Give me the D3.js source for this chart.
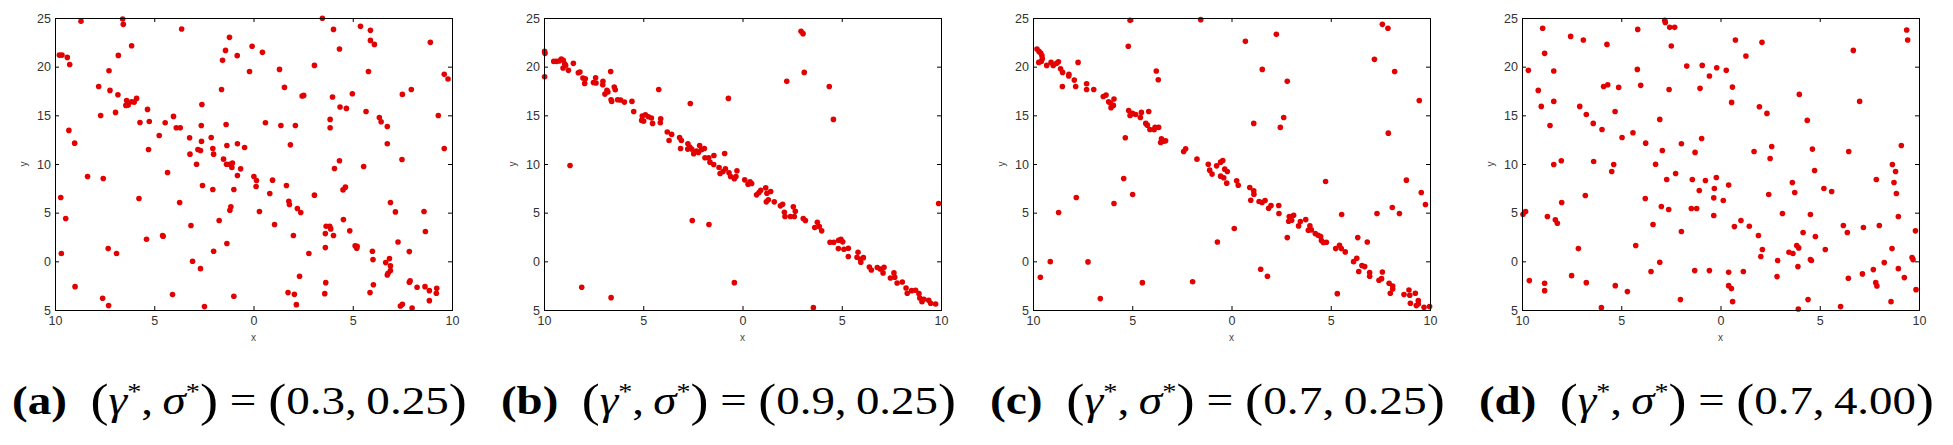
<!DOCTYPE html>
<html>
<head>
<meta charset="utf-8">
<script src="https://cdn.jsdelivr.net/npm/d3@7"></script>
<style>
  body { margin: 0; background: #fff; }
  .tick-label { font-family: "Liberation Sans", Arial, sans-serif; font-size: 12.5px; fill: #333; }
  .axis-label { font-family: "Liberation Sans", Arial, sans-serif; font-size: 10px; fill: #444; }
  .caption { font-family: "Liberation Serif", "Times New Roman", serif; font-size: 40px; fill: #000; }
</style>
</head>
<body>
<div id="chart"></div>
<script>
const width = 1953, height = 445;

// ticks shown on every panel
const xTicks = [-10, -5, 0, 5, 10];
const yTicks = [-5, 0, 5, 10, 15, 20, 25];

// caption pieces
const panelTags = ["(a)", "(b)", "(c)", "(d)"];
const gammaVals = ["0.3", "0.9", "0.7", "0.7"];
const sigmaVals = ["0.25", "0.25", "0.25", "4.00"];

// scatter points [x, y]
const pointsA = [
  [-8.69,24.66],[-6.59,24.9],[-6.56,24.35],[-3.62,23.87],[3.47,24.97],[5.39,24.14],[4.03,23.83],[5.89,23.73],
  [5.89,22.7],[6.09,22.29],[8.91,22.5],[-1.21,23.01],[-0.07,22.09],[-6.14,22.15],[-9.78,21.19],[-9.65,21.19],
  [-9.38,20.95],[-9.26,20.23],[-6.81,21.16],[-1.41,21.67],[-0.82,21.13],[0.45,21.47],[4.33,21.81],[-1.56,20.65],
  [-7.28,19.58],[-0.2,19.51],[1.31,19.72],[3.07,20.13],[5.79,19.51],[9.61,19.21],[9.8,18.73],[-7.8,17.97],
  [-7.23,17.56],[-6.83,17.12],[-1.61,17.66],[1.56,17.87],[2.45,16.98],[2.53,17.05],[3.98,16.88],[4.98,17.22],
  [7.5,17.15],[7.95,17.66],[-6.39,16.53],[-6.31,16.05],[-6.14,16.4],[-6.01,16.36],[-5.89,16.74],[-6.43,16.02],
  [-2.6,16.12],[-5.34,15.61],[-7.7,14.99],[-6.95,15.3],[-4.03,14.89],[-5.72,14.27],[-5.25,14.37],[-4.45,14.24],
  [-3.89,13.72],[-3.69,13.72],[-2.63,13.96],[-1.38,14.06],[0.6,14.24],[1.38,13.96],[2.11,13.96],[4.36,15.85],
  [4.68,15.71],[5.67,15.4],[3.86,14.58],[3.86,13.72],[6.34,14.78],[6.43,14.34],[6.74,13.86],[9.31,14.99],
  [-9.3,13.45],[-9.01,12.14],[-4.75,12.93],[-3.22,12.69],[-2.62,12.32],[-2.13,12.73],[-3.2,11.01],[-2.8,11.49],
  [-2.67,11.39],[-2.05,11.6],[-2.01,11.01],[-1.34,11.9],[-0.81,12.08],[-0.45,11.7],[1.86,11.97],[-5.29,11.49],
  [6.74,12.08],[9.61,11.6],[-2.87,9.98],[-1.51,10.5],[-1.36,9.98],[-1.19,9.98],[-1.06,10.09],[-1.09,9.64],
  [-0.65,9.5],[-4.33,9.13],[-0.81,8.82],[0.02,8.72],[0.15,8.3],[0.96,8.34],[4.33,10.33],[4.08,9.54],
  [5.55,9.74],[7.48,10.46],[-8.36,8.72],[-7.57,8.51],[-2.57,7.79],[-2.05,7.38],[-0.99,7.38],[0.13,7.69],
  [1.66,7.79],[4.51,7.34],[4.63,7.62],[0.82,6.97],[3.07,6.8],[-9.71,6.56],[-5.77,6.45],[-3.72,6.04],
  [1.78,6.18],[1.81,5.84],[6.9,6.04],[2.21,5.43],[2.38,5.01],[0.3,5.12],[-1.19,5.25],[-1.14,5.6],
  [7.15,5.08],[8.59,5.12],[-9.46,4.4],[-1.73,4.19],[4.53,4.29],[-3.15,3.68],[1.06,3.78],[3.66,3.61],
  [3.84,3.61],[3.89,3.33],[3.62,2.85],[4.03,2.65],[4.85,3.13],[8.66,3.06],[-5.39,2.27],[-4.58,2.65],
  [-4.55,2.58],[2.01,2.65],[-1.34,1.83],[5.12,1.59],[5.2,1.35],[5.22,1.55],[7.28,1.99],[-7.32,1.31],
  [3.62,1.41],[-9.68,0.8],[-6.9,0.8],[-2.01,1.04],[2.79,0.8],[5.99,1.04],[7.85,1.0],[6.02,0.18],
  [6.85,0.28],[-3.07,0.01],[6.66,-0.13],[6.9,-0.47],[6.78,-1.22],[6.9,-0.95],[6.74,-1.4],[-2.67,-0.75],
  [2.32,-1.53],[-8.99,-2.6],[3.64,-2.19],[6.04,-2.4],[7.85,-2.15],[7.89,-2.01],[8.24,-2.67],[8.64,-2.6],
  [8.86,-3.01],[9.23,-2.77],[9.21,-3.28],[1.74,-3.21],[2.06,-3.39],[3.59,-3.32],[5.87,-3.21],[-4.08,-3.42],
  [-7.6,-3.8],[-0.99,-3.59],[8.86,-4.04],[-7.3,-4.55],[-2.47,-4.65],[2.16,-4.45],[7.4,-4.59],[7.5,-4.41],
  [7.99,-4.79]
];

const pointsB = [
  [-9.97,21.57],[-9.95,21.37],[-9.97,18.97],[-8.69,9.85],[-8.1,-2.67],[-6.62,-3.73],[-6.64,19.51],[-4.22,17.66],
  [-2.63,16.22],[-2.53,4.19],[-1.69,3.78],[-0.71,16.74],[-0.9,11.08],[-0.41,-2.19],[2.23,18.49],[2.95,23.63],
  [3.05,23.39],[3.11,19.41],[4.37,17.97],[4.58,14.58],[3.57,-4.76],[9.88,5.94],
  [-9.51,20.54],[-9.38,20.54],[-9.24,20.58],[-9.13,20.78],[-9.03,20.65],[-8.96,20.3],[-9.04,19.86],[-8.91,20.13],
  [-8.77,19.62],[-8.52,20.34],[-8.27,19.38],[-8.19,19.45],[-8.04,18.83],[-7.92,18.76],[-7.95,18.28],[-7.51,18.38],
  [-7.4,18.86],[-7.38,18.32],[-7.03,18.49],[-7.04,18.14],[-6.93,17.18],[-6.83,17.56],[-6.78,17.39],[-6.46,17.9],
  [-6.41,17.63],[-6.62,16.6],[-6.59,16.43],[-6.29,16.6],[-6.14,16.57],[-5.95,16.36],[-5.57,16.43],[-5.48,15.4],
  [-5.05,14.92],[-4.89,15.06],[-4.74,14.85],[-4.59,14.72],[-5.08,14.48],[-4.98,14.41],[-4.53,14.17],[-4.12,14.65],
  [-4.14,14.24],[-3.79,13.28],[-3.57,13.04],[-3.7,12.42],[-3.17,12.73],[-3.08,12.42],[-3.12,11.6],[-2.75,12.08],
  [-2.66,11.73],[-2.76,11.53],[-2.56,11.53],[-2.46,11.05],[-2.32,11.32],[-2.16,11.9],[-2.06,11.46],[-1.92,11.6],
  [-2.22,11.19],[-1.89,10.64],[-1.7,10.64],[-1.44,10.88],[-1.64,10.19],[-1.45,9.95],[-1.18,9.64],[-1.13,9.02],
  [-0.98,9.23],[-0.86,9.5],[-0.68,9.09],[-0.6,8.72],[-0.41,8.48],[-0.33,8.72],[-0.28,9.3],[0.11,8.37],
  [0.28,7.93],[0.38,8.17],[0.46,8.0],[0.71,6.83],[0.83,7.07],[0.92,7.31],[1.17,7.55],[1.23,7.0],
  [1.42,7.17],[1.2,6.11],[1.3,6.32],[1.6,6.11],[1.91,5.7],[2.02,5.87],[2.11,5.05],[2.14,4.6],
  [2.41,4.6],[2.56,5.6],[2.66,5.15],[2.61,4.6],[3.06,4.4],[3.17,4.19],[3.64,3.47],[3.77,4.02],
  [3.87,3.57],[3.99,3.13],[4.41,1.96],[4.6,1.96],[4.84,2.17],[4.96,2.27],[5.05,2.0],[4.83,1.31],
  [5.11,1.24],[5.33,1.35],[5.33,0.49],[5.82,0.93],[5.77,0.42],[5.94,0.21],[6.09,0.38],[5.96,-0.1],
  [6.39,-0.58],[6.49,-0.89],[6.79,-0.64],[6.94,-0.78],[7.13,-0.61],[7.08,-1.19],[7.45,-1.71],[7.63,-1.19],
  [7.67,-1.64],[7.79,-2.22],[8.05,-2.12],[8.24,-2.74],[8.3,-3.28],[8.52,-3.01],[8.72,-2.97],[8.89,-3.32],
  [8.93,-3.76],[9.04,-4.14],[9.14,-3.9],[9.38,-4.0],[9.48,-4.31],[9.73,-4.38]
];

const pointsC = [
  [-9.8,21.81],[-9.7,21.57],[-9.61,21.4],[-9.55,21.13],[-9.53,20.82],[-9.58,20.54],[-9.71,20.44],[-9.31,20.13],
  [-9.09,20.44],[-8.98,20.13],[-8.81,20.34],[-8.72,20.51],[-8.61,19.79],[-8.51,19.41],[-8.19,19.21],[-8.2,19.04],
  [-8.52,17.97],[-7.92,18.62],[-7.85,17.97],[-7.73,20.44],[-7.3,18.25],[-7.3,17.66],[-6.94,17.66],[-6.46,16.94],
  [-6.32,17.08],[-6.19,16.4],[-6.07,15.78],[-5.95,16.02],[-5.92,16.67],[-6.1,16.26],[-5.35,12.69],[-5.18,15.5],
  [-5.11,14.99],[-4.99,15.2],[-4.83,15.09],[-4.54,15.3],[-4.59,14.78],[-4.32,14.17],[-4.24,13.99],[-4.17,15.4],
  [-4.11,13.55],[-3.9,13.52],[-3.85,13.76],[-3.67,13.76],[-3.79,19.55],[-3.69,18.66],[-3.53,12.59],[-3.45,12.35],
  [-3.32,12.38],[-3.57,12.21],[-2.41,11.29],[-2.31,11.56],[-1.74,10.5],[-1.17,9.98],[-1.1,9.37],[-0.98,8.96],
  [-0.75,9.81],[-0.55,10.19],[-0.44,10.36],[-0.55,8.75],[-0.39,8.58],[-0.34,9.47],[-0.21,9.23],[-0.24,8.03],
  [0.26,8.27],[0.34,7.82],[0.92,7.58],[1.12,7.24],[1.13,6.9],[0.97,6.28],[1.39,6.15],[1.54,6.04],
  [1.69,6.25],[1.87,5.46],[1.99,5.73],[2.38,5.73],[2.39,4.91],[2.91,4.6],[3.03,4.22],[2.88,4.12],
  [3.13,4.74],[3.38,3.64],[3.47,4.09],[3.74,4.29],[3.87,3.2],[3.95,3.64],[4.02,3.23],[4.22,2.85],
  [4.37,2.68],[4.49,2.55],[4.63,1.93],[4.78,1.96],[4.53,2.13],[5.25,1.31],[5.44,1.65],[5.53,1.31],
  [5.73,0.97],[6.15,-0.03],[6.31,0.32],[6.41,-1.05],[6.57,-0.44],[6.71,-0.54],[6.96,-1.15],[6.96,-1.53],
  [7.43,-1.95],[7.56,-1.78],[7.6,-1.09],[7.94,-2.25],[8.12,-2.53],[8.12,-2.84],[8.0,-3.28],[8.69,-3.42],
  [8.94,-2.94],[8.98,-3.49],[9.26,-3.28],[9.01,-4.31],[9.41,-4.04],[9.31,-4.55],[9.41,-4.38],[9.7,-4.72],
  [9.98,-4.65],
  [-5.11,24.76],[-1.55,24.83],[-5.2,22.09],[0.7,22.6],[2.26,23.32],[7.6,24.35],[7.88,23.94],[7.2,20.75],
  [8.22,19.51],[1.55,19.72],[2.81,18.49],[9.46,16.53],[2.63,14.78],[2.46,13.76],[1.12,14.17],[7.9,13.17],
  [8.81,8.34],[4.74,8.2],[9.56,7.07],[9.77,5.84],[8.1,5.53],[7.33,4.91],[8.46,4.91],[5.55,4.81],
  [2.81,2.44],[6.36,2.44],[6.84,1.99],[0.14,3.37],[-0.71,1.99],[-5.43,8.51],[-4.98,6.86],[-7.82,6.56],
  [-5.92,5.94],[-8.71,5.01],[-9.13,-0.03],[-7.23,-0.06],[-9.63,-1.64],[-4.49,-2.19],[-1.96,-2.09],[1.47,-0.82],
  [1.81,-1.53],[5.33,-3.32],[-6.61,-3.83]
];

const pointsD = [
  [-8.96,23.94],[-9.68,19.62],[-8.86,21.37],[-7.55,23.11],[-6.91,22.74],[-5.72,22.29],[-4.17,23.83],[-2.81,24.76],
  [-2.78,24.55],[-2.56,24.04],[-2.31,24.04],[-2.48,22.12],[0.75,22.74],[2.09,22.5],[1.28,21.09],[6.69,21.67],
  [9.38,23.77],[9.43,22.74],[-8.4,19.55],[-9.18,17.56],[-9.03,15.92],[-8.4,16.43],[-8.59,13.96],[-7.09,15.92],
  [-6.76,15.09],[-6.41,14.17],[-5.97,13.55],[-5.89,17.97],[-5.68,18.14],[-5.13,17.87],[-5.31,15.4],[-4.96,12.73],
  [-4.41,13.21],[-4.19,19.72],[-4.02,18.08],[-3.77,12.14],[-3.06,14.58],[-2.59,17.66],[-1.7,20.06],[-0.92,20.13],
  [-0.56,19.04],[-0.19,19.89],[-1.03,17.77],[0.29,19.62],[0.6,17.9],[0.56,16.33],[1.96,15.88],[2.34,15.2],
  [3.97,17.15],[4.37,14.48],[7.01,16.43],[-0.95,12.62],[-1.97,12.08],[-2.93,11.39],[-1.28,11.19],[1.69,11.29],
  [2.58,11.8],[2.5,10.57],[4.63,11.53],[6.46,11.29],[9.11,11.9],[-8.02,10.33],[-8.4,9.95],[-6.39,10.26],
  [-5.38,9.95],[-5.48,9.23],[-3.27,9.98],[-2.26,9.02],[-2.71,8.41],[-1.42,8.41],[-0.76,8.3],[-0.21,8.61],
  [-1.07,7.28],[-0.31,7.48],[0.41,7.83],[4.74,9.33],[3.62,8.1],[3.74,7.07],[5.21,7.48],[5.6,7.17],
  [7.85,8.41],[8.66,9.95],[8.82,9.23],[8.74,8.1],[8.86,6.97],[-8.0,6.04],[-6.81,6.76],[-3.79,6.45],
  [-2.98,5.63],[-2.61,5.32],[-1.47,5.43],[-1.2,5.43],[-0.34,6.52],[0.14,6.25],[2.43,6.86],[-9.95,4.84],
  [-9.82,5.12],[-8.72,4.6],[-8.32,4.26],[-8.22,3.92],[-3.4,3.78],[-0.34,4.71],[1.03,4.19],[0.7,3.57],
  [1.45,3.61],[3.12,4.91],[4.53,4.81],[6.19,3.68],[6.39,2.96],[7.2,3.47],[8.0,3.68],[8.96,4.6],
  [9.82,3.13],[-1.97,3.06],[1.91,2.65],[4.16,2.96],[4.78,2.55],[2.11,1.21],[2.03,0.49],[3.45,0.93],
  [3.65,0.8],[3.84,1.62],[3.94,1.38],[5.28,1.21],[2.88,0.08],[4.53,0.18],[4.58,0.08],[3.9,-0.54],
  [-7.16,1.31],[-4.27,1.62],[-3.06,-0.1],[-3.5,-1.05],[-1.3,-0.95],[-0.56,-0.95],[0.41,-1.12],[1.15,-1.05],
  [2.85,-1.57],[6.44,-1.74],[7.15,-1.29],[7.7,-0.85],[8.25,-0.13],[8.64,1.31],[8.96,-0.75],[9.26,-1.67],
  [9.65,0.39],[9.7,0.18],[9.85,-2.91],[7.82,-2.19],[7.88,-2.53],[-9.63,-1.98],[-8.86,-2.25],[-8.86,-3.01],
  [-7.5,-1.47],[-6.76,-2.19],[-5.3,-2.5],[-4.69,-3.11],[-6.0,-4.76],[-2.02,-3.93],[0.41,-2.5],[0.55,-2.8],
  [0.61,-4.14],[3.92,-4.89],[4.41,-3.93],[6.05,-4.65],[8.59,-4.14]
];

const allPoints = [pointsA, pointsB, pointsC, pointsD];

// layout
const panelLefts = [55, 544, 1033, 1522];
const panelW = 397;
const plotTop = 18, plotBottom = 310;
const tickLen = 4;

const svg = d3.select("#chart")
    .append("svg")
    .attr("width", width)
    .attr("height", height);

// the figure prints tick labels without minus signs
const fmt = d => String(Math.abs(d));

allPoints.forEach((pts, i) => {
    const x0 = panelLefts[i];

    const xScale = d3.scaleLinear().domain([-10, 10]).range([x0, x0 + panelW]);
    const yScale = d3.scaleLinear().domain([-5, 25]).range([plotBottom, plotTop]);

    const g = svg.append("g").attr("class", "panel");

    // ticks on all 4 sides, pointing inwards (matlab box)
    const bottomAxis = d3.axisBottom(xScale).tickValues(xTicks).tickSize(-tickLen).tickPadding(6).tickFormat(fmt);
    const topAxis = d3.axisTop(xScale).tickValues(xTicks).tickSize(-tickLen).tickFormat("");
    const leftAxis = d3.axisLeft(yScale).tickValues(yTicks).tickSize(-tickLen).tickPadding(4).tickFormat(fmt);
    const rightAxis = d3.axisRight(yScale).tickValues(yTicks).tickSize(-tickLen).tickFormat("");

    const axes = [
        g.append("g").attr("transform", `translate(0, ${plotBottom})`).call(bottomAxis),
        g.append("g").attr("transform", `translate(0, ${plotTop})`).call(topAxis),
        g.append("g").attr("transform", `translate(${x0}, 0)`).call(leftAxis),
        g.append("g").attr("transform", `translate(${x0 + panelW}, 0)`).call(rightAxis)
    ];
    axes.forEach(a => {
        a.select(".domain").remove();
        a.selectAll(".tick line").attr("stroke", "#000").attr("stroke-width", 1);
        a.selectAll(".tick text").attr("class", "tick-label").attr("font-family", null).attr("font-size", null);
    });

    // points
    g.append("g")
        .selectAll("circle")
        .data(pts)
        .join("circle")
        .attr("cx", d => xScale(d[0]))
        .attr("cy", d => yScale(d[1]))
        .attr("r", 2.8)
        .attr("fill", "#e30000");

    // frame
    g.append("rect")
        .attr("x", x0 + 0.5)
        .attr("y", plotTop + 0.5)
        .attr("width", panelW)
        .attr("height", plotBottom - plotTop)
        .attr("fill", "none")
        .attr("stroke", "#000")
        .attr("stroke-width", 1);

    // axis labels
    g.append("text")
        .attr("class", "axis-label")
        .attr("x", x0 + panelW / 2)
        .attr("y", plotBottom + 31)
        .attr("text-anchor", "middle")
        .text("x");

    g.append("text")
        .attr("class", "axis-label")
        .attr("transform", `translate(${x0 - 28}, ${(plotTop + plotBottom) / 2}) rotate(-90)`)
        .attr("text-anchor", "middle")
        .text("y");

    // caption
    const cap = svg.append("text")
        .attr("class", "caption")
        .attr("x", 0)
        .attr("y", 0);

    cap.append("tspan").attr("font-weight", "bold").text(panelTags[i]);
    cap.append("tspan").text("\u2002");
    cap.append("tspan").attr("font-size", 46).attr("dy", 2).text("(");
    cap.append("tspan").attr("font-style", "italic").attr("dy", -2).text("\u03B3");
    cap.append("tspan").attr("font-size", 24).attr("dy", -15).text("*");
    cap.append("tspan").attr("dy", 15).text(",\u2009");
    cap.append("tspan").attr("font-style", "italic").text("\u03C3");
    cap.append("tspan").attr("font-size", 24).attr("dy", -15).text("*");
    cap.append("tspan").attr("font-size", 46).attr("dy", 17).text(")");
    cap.append("tspan").attr("dy", -2).text(" = ");
    cap.append("tspan").attr("font-size", 46).attr("dy", 2).text("(");
    cap.append("tspan").attr("dy", -2).text(`${gammaVals[i]},\u2009${sigmaVals[i]}`);
    cap.append("tspan").attr("font-size", 46).attr("dy", 2).text(")");

    // stretch caption to the width it has in the figure
    const bb = cap.node().getBBox();
    const targetW = 455;
    const sx = targetW / bb.width;
    cap.attr("transform", `translate(${x0 - 43}, 414) scale(${sx}, 1) translate(${-bb.x}, 0)`);
});
</script>
</body>
</html>
